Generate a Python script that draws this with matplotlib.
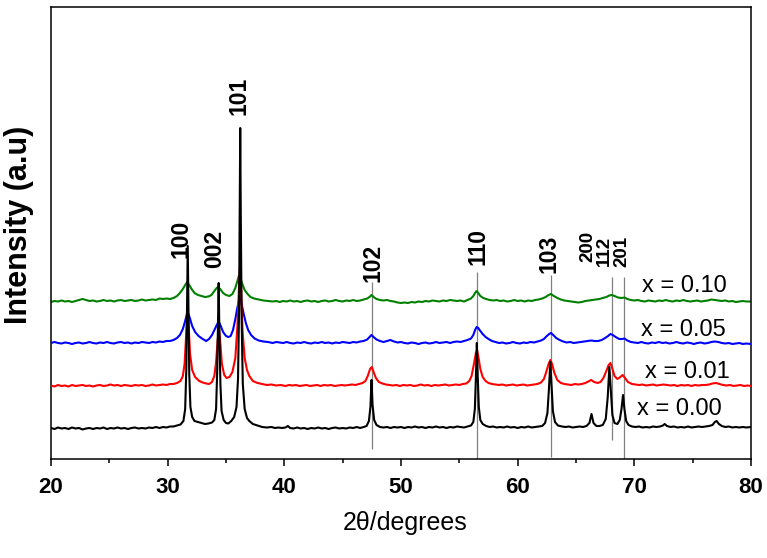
import matplotlib
matplotlib.use("Agg")
import matplotlib.pyplot as plt
from matplotlib.ticker import MultipleLocator

plt.rcParams['font.family'] = ['Liberation Sans', 'DejaVu Sans']

# ---- data (2theta in degrees, intensity in a.u. above each pattern's own baseline) ----
samples = ["x = 0.00", "x = 0.01", "x = 0.05", "x = 0.10"]
colors = ["#000000", "#ff0000", "#0000ff", "#008000"]
offsets = [30, 73, 116, 158]

black = [(20.0,1),(20.3,0),(20.6,1.5),(20.9,0.5),(21.2,1),(21.5,0),(21.8,1.5),(22.1,0.5),(22.4,1),(22.7,-0.5),(23.0,0.5),(23.3,1),(23.6,0),(23.9,1),(24.2,0.5),(24.5,1.5),(24.8,0),(25.1,1),(25.4,0.5),(25.7,1.5),(26.0,0.5),(26.3,1),(26.6,0),(26.9,1),(27.2,1.5),(27.5,0.5),(27.8,1),(28.1,0.5),(28.4,1.5),(28.7,1),(29.0,2),(29.3,1),(29.6,2),(29.9,1.5),(30.2,2.5),(30.5,2.5),(30.8,3.5),(31.1,4.5),(31.35,8),(31.5,20),(31.6,60),(31.66,120),(31.72,183),(31.78,120),(31.85,55),(31.95,22),(32.1,12),(32.3,8),(32.6,7),(32.9,6),(33.2,5),(33.5,5.5),(33.8,6.5),(34.0,9),(34.15,20),(34.25,60),(34.32,110),(34.37,146),(34.43,100),(34.52,45),(34.62,18),(34.8,9),(35.0,6),(35.2,5.5),(35.45,8),(35.7,12),(35.9,22),(36.03,50),(36.12,120),(36.18,220),(36.22,301),(36.27,210),(36.34,110),(36.44,45),(36.6,20),(36.8,11),(37.0,8),(37.3,5),(37.7,3.5),(38.1,2),(38.5,1.5),(38.9,2),(39.2,1),(39.5,1.5),(39.8,1),(40.1,1.5),(40.3,3),(40.5,1),(40.8,0.5),(41.1,1.5),(41.4,0.5),(41.7,1),(42.0,0),(42.3,1),(42.6,0.5),(42.9,1.5),(43.2,0.5),(43.5,1),(43.8,0),(44.1,1),(44.4,1.5),(44.7,0.5),(45.0,1),(45.3,0.5),(45.6,1.5),(45.9,1),(46.2,2),(46.5,1),(46.8,2),(47.05,3),(47.25,8),(47.38,22),(47.47,49),(47.56,24),(47.7,9),(47.9,4),(48.2,2),(48.5,1.5),(48.8,2),(49.1,1),(49.4,2),(49.7,1.5),(50.0,2),(50.3,1),(50.6,2),(50.9,1.5),(51.2,2.5),(51.5,1.5),(51.8,2),(52.1,1),(52.4,2),(52.7,1.5),(53.0,2.5),(53.3,1.5),(53.6,2),(53.9,1),(54.2,2),(54.5,1.5),(54.8,2.5),(55.1,2),(55.4,1.5),(55.7,2.5),(56.0,3.5),(56.2,7),(56.33,20),(56.43,55),(56.5,86),(56.57,55),(56.67,22),(56.8,9),(57.0,5),(57.3,3),(57.6,2),(57.9,2.5),(58.2,1.5),(58.5,2),(58.8,1.5),(59.1,2.5),(59.4,1.5),(59.7,2),(60.0,1),(60.3,2),(60.6,1.5),(60.9,2.5),(61.2,1.5),(61.5,2),(61.8,2.5),(62.1,3),(62.35,6),(62.55,16),(62.68,40),(62.8,67),(62.9,45),(63.02,18),(63.2,7),(63.45,3.5),(63.8,2.5),(64.1,2),(64.4,2.5),(64.7,1.5),(65.0,2),(65.3,2.5),(65.6,2),(65.9,3),(66.15,6),(66.33,15),(66.5,6),(66.75,3),(67.0,3),(67.3,4),(67.55,10),(67.72,32),(67.86,62),(67.98,40),(68.12,14),(68.3,6),(68.55,5),(68.75,9),(68.9,20),(69.03,34),(69.15,20),(69.3,8),(69.5,4),(69.8,2.5),(70.1,2),(70.4,2.5),(70.7,1.5),(71.0,2),(71.3,1.5),(71.6,2.5),(71.9,2),(72.2,2.5),(72.45,3.5),(72.6,5),(72.8,3),(73.1,2),(73.4,2.5),(73.7,1.5),(74.0,2),(74.3,1.5),(74.6,2.5),(74.9,1.5),(75.2,2),(75.5,2.5),(75.8,2),(76.1,2.5),(76.4,3),(76.7,4),(76.9,7),(77.05,8),(77.25,5),(77.5,3),(77.8,2),(78.1,2.5),(78.4,1.5),(78.7,2),(79.0,1.5),(79.3,2),(79.6,1.5),(80.0,2)]

red = [(20.0,0.5),(20.3,-0.5),(20.6,1),(20.9,0),(21.2,0.5),(21.5,-0.5),(21.8,1),(22.1,0),(22.4,0.5),(22.7,1),(23.0,0),(23.3,0.5),(23.6,-0.5),(23.9,0.5),(24.2,1),(24.5,0),(24.8,0.5),(25.1,1.5),(25.4,0.5),(25.7,1),(26.0,0),(26.3,1),(26.6,0.5),(26.9,0),(27.2,1),(27.5,0.5),(27.8,1),(28.1,0),(28.4,0.5),(28.7,1.5),(29.0,0.5),(29.3,1),(29.6,1.5),(29.9,1),(30.2,2),(30.5,2),(30.8,3),(31.1,5),(31.3,10),(31.45,22),(31.58,50),(31.7,78),(31.8,60),(31.92,32),(32.1,16),(32.35,9),(32.7,5),(33.0,3.5),(33.3,2.5),(33.55,2),(33.8,4),(34.0,10),(34.15,24),(34.28,45),(34.4,58),(34.52,42),(34.65,22),(34.85,11),(35.05,8),(35.3,9),(35.55,14),(35.8,28),(35.98,60),(36.1,95),(36.2,119),(36.3,95),(36.42,55),(36.6,28),(36.8,16),(37.0,10),(37.3,5),(37.7,3),(38.1,2),(38.5,1),(38.9,1.5),(39.3,0.5),(39.7,1),(40.1,0),(40.4,1),(40.7,0.5),(41.0,1),(41.3,0),(41.6,0.5),(41.9,1),(42.2,0),(42.5,0.5),(42.8,1),(43.1,0),(43.4,1),(43.7,0.5),(44.0,1),(44.3,0),(44.6,0.5),(44.9,1),(45.2,0.5),(45.5,1),(45.8,1.5),(46.1,1),(46.4,2),(46.7,3),(46.95,5),(47.15,10),(47.35,17),(47.5,19),(47.65,14),(47.85,8),(48.1,4),(48.4,2.5),(48.7,1.5),(49.0,1),(49.3,0.5),(49.6,1),(49.9,0),(50.2,1),(50.5,0.5),(50.8,1),(51.1,0),(51.4,0.5),(51.7,1.5),(52.0,0.5),(52.3,1),(52.6,0),(52.9,1),(53.2,0.5),(53.5,1),(53.8,1.5),(54.1,0.5),(54.4,1),(54.7,1.5),(55.0,1),(55.3,2),(55.6,2.5),(55.85,5),(56.05,10),(56.25,22),(56.42,33),(56.52,36),(56.65,28),(56.8,17),(57.0,9),(57.25,5),(57.5,3),(57.8,2),(58.1,1.5),(58.4,1),(58.7,1.5),(59.0,0.5),(59.3,1),(59.6,1.5),(59.9,0.5),(60.2,1),(60.5,1.5),(60.8,0.5),(61.1,1),(61.4,1.5),(61.7,2),(62.0,3.5),(62.25,7),(62.45,14),(62.65,22),(62.8,26),(62.95,22),(63.15,13),(63.4,6),(63.7,3),(64.0,2),(64.3,1.5),(64.6,1),(64.9,2),(65.2,1.5),(65.5,2),(65.8,3),(66.05,4.5),(66.3,6),(66.55,4),(66.85,3),(67.1,4),(67.35,8),(67.6,15),(67.8,21),(67.95,23),(68.1,18),(68.3,10),(68.55,7),(68.8,9),(69.0,11),(69.2,8),(69.45,4),(69.8,2),(70.1,1.5),(70.4,1),(70.7,1.5),(71.0,0.5),(71.3,1),(71.6,1.5),(71.9,0.5),(72.2,1),(72.5,1.5),(72.8,1),(73.1,0.5),(73.4,1),(73.7,0),(74.0,1),(74.3,0.5),(74.6,1),(74.9,0),(75.2,1),(75.5,0.5),(75.8,1),(76.1,1),(76.4,1.5),(76.7,2.5),(77.0,3),(77.3,2),(77.6,1),(77.9,0.5),(78.2,1),(78.5,0),(78.8,0.5),(79.1,1),(79.4,0),(79.7,0.5),(80.0,0)]

blue = [(20.0,0),(20.3,1),(20.6,0),(20.9,-0.5),(21.2,0.5),(21.5,0),(21.8,-1),(22.1,0),(22.4,0.5),(22.7,-0.5),(23.0,0),(23.3,1),(23.6,0),(23.9,-0.5),(24.2,0.5),(24.5,0),(24.8,1),(25.1,0),(25.4,-0.5),(25.7,0.5),(26.0,1),(26.3,0),(26.6,0.5),(26.9,-0.5),(27.2,0.5),(27.5,0),(27.8,1),(28.1,0.5),(28.4,0),(28.7,1),(29.0,0.5),(29.3,1.5),(29.6,1),(29.9,2),(30.2,2),(30.5,3),(30.8,5),(31.05,8),(31.3,14),(31.5,22),(31.65,29),(31.75,30),(31.9,25),(32.1,17),(32.35,11),(32.65,7),(33.0,4),(33.3,2),(33.55,4),(33.8,8),(34.05,14),(34.25,19),(34.4,21),(34.55,17),(34.75,11),(35.0,7),(35.2,6),(35.4,7),(35.6,13),(35.8,24),(35.95,34),(36.1,42),(36.2,45),(36.32,40),(36.5,30),(36.7,20),(36.9,13),(37.15,8),(37.45,4.5),(37.8,2.5),(38.2,1.5),(38.6,1),(39.0,0),(39.3,1),(39.6,0.5),(39.9,0),(40.2,1),(40.5,0),(40.8,-0.5),(41.1,0.5),(41.4,0),(41.7,1),(42.0,0),(42.3,-0.5),(42.6,0.5),(42.9,0),(43.2,1),(43.5,0),(43.8,0.5),(44.1,-0.5),(44.4,0.5),(44.7,0),(45.0,1),(45.3,0.5),(45.6,0),(45.9,1),(46.2,0.5),(46.5,1.5),(46.8,2),(47.1,3.5),(47.3,6),(47.47,8),(47.65,6),(47.9,3.5),(48.2,2),(48.5,1),(48.8,2),(49.1,3),(49.4,1.5),(49.7,0.5),(50.0,1),(50.3,0),(50.6,-0.5),(50.9,0.5),(51.2,0),(51.5,-1),(51.8,0),(52.1,0.5),(52.4,-0.5),(52.7,0),(53.0,1),(53.3,0),(53.6,0.5),(53.9,1),(54.2,0),(54.5,1),(54.8,1.5),(55.1,1),(55.4,2),(55.7,3),(56.0,4.5),(56.2,8),(56.35,13),(56.48,16),(56.62,15),(56.8,12),(57.0,9),(57.25,6),(57.5,4),(57.8,2),(58.1,1),(58.4,0),(58.7,0.5),(59.0,-0.5),(59.3,0),(59.6,1),(59.9,0),(60.2,-0.5),(60.5,0.5),(60.8,0),(61.1,1),(61.4,0.5),(61.7,1.5),(62.0,2.5),(62.25,4),(62.5,7),(62.7,9),(62.85,10),(63.05,8),(63.3,5),(63.6,3),(63.9,1.5),(64.2,0.5),(64.5,1),(64.8,0),(65.1,0.5),(65.4,1),(65.7,1.5),(66.0,2),(66.3,2.5),(66.6,2),(66.9,2),(67.2,3),(67.5,5),(67.75,7),(67.95,9),(68.15,8),(68.4,6),(68.7,4),(68.95,4),(69.15,4.5),(69.4,2.5),(69.7,1),(70.0,0.5),(70.3,0),(70.6,1),(70.9,0),(71.2,-0.5),(71.5,0.5),(71.8,0),(72.1,1),(72.4,0),(72.7,0.5),(73.0,-0.5),(73.3,0),(73.6,1),(73.9,0),(74.2,-0.5),(74.5,0.5),(74.8,0),(75.1,-1),(75.4,0),(75.7,0.5),(76.0,-0.5),(76.3,0),(76.6,1),(76.9,1.5),(77.2,1),(77.5,0),(77.8,-0.5),(78.1,0),(78.4,-1),(78.7,-0.5),(79.0,0),(79.3,-1),(79.6,-0.5),(80.0,-1)]

green = [(20.0,-1),(20.3,0),(20.6,-0.5),(20.9,0.5),(21.2,-0.5),(21.5,0),(21.8,-1),(22.1,0),(22.4,1),(22.7,2),(23.0,1),(23.3,0),(23.6,0.5),(23.9,-0.5),(24.2,0),(24.5,1),(24.8,0),(25.1,0.5),(25.4,-0.5),(25.7,0.5),(26.0,1),(26.3,0),(26.6,0.5),(26.9,1),(27.2,0),(27.5,0.5),(27.8,1.5),(28.1,0.5),(28.4,1),(28.7,1.5),(29.0,1),(29.3,2.5),(29.6,2),(29.9,2.5),(30.2,2),(30.5,3),(30.8,5),(31.05,8),(31.3,12),(31.5,16),(31.68,19),(31.85,16),(32.05,12),(32.3,8),(32.6,6),(32.9,5),(33.2,4),(33.5,4.5),(33.75,6),(34.0,10),(34.2,13),(34.32,14),(34.5,12),(34.75,8),(35.0,6),(35.3,5),(35.55,7),(35.8,13),(35.98,20),(36.1,25),(36.22,23),(36.4,17),(36.6,11),(36.85,7),(37.1,4),(37.4,2.5),(37.8,1.5),(38.2,0.5),(38.6,0),(39.0,-0.5),(39.3,0),(39.6,-1),(39.9,0),(40.2,-0.5),(40.5,0.5),(40.8,-0.5),(41.1,0),(41.4,-1),(41.7,0),(42.0,0.5),(42.3,-0.5),(42.6,0),(42.9,-1),(43.2,0),(43.5,0.5),(43.8,-0.5),(44.1,0),(44.4,1),(44.7,0),(45.0,-0.5),(45.3,0.5),(45.6,0),(45.9,1),(46.2,0),(46.5,0.5),(46.8,1.5),(47.1,2.5),(47.3,4),(47.48,6),(47.65,4),(47.9,2),(48.2,1),(48.5,0.5),(48.8,1),(49.1,0),(49.4,-0.5),(49.7,-1.5),(50.0,-2),(50.3,-1.5),(50.6,-2),(50.9,-1),(51.2,-1.5),(51.5,-0.5),(51.8,-1),(52.1,0),(52.4,-0.5),(52.7,0.5),(53.0,0),(53.3,-0.5),(53.6,0.5),(53.9,0),(54.2,1),(54.5,0.5),(54.8,0),(55.1,0.5),(55.4,-0.5),(55.7,1),(56.0,2.5),(56.2,5),(56.35,8),(56.48,10),(56.62,8),(56.8,5),(57.05,3),(57.3,2),(57.6,1),(57.9,0.5),(58.2,1),(58.5,0),(58.8,0.5),(59.1,-0.5),(59.4,0),(59.7,1),(60.0,0),(60.3,0.5),(60.6,-0.5),(60.9,0.5),(61.2,0),(61.5,1),(61.8,1.5),(62.1,2.5),(62.4,4),(62.65,6),(62.85,7),(63.1,5),(63.4,3),(63.7,1.5),(64.0,0.5),(64.3,0),(64.6,-0.5),(64.9,-1),(65.2,-1.5),(65.5,-1),(65.8,0),(66.1,0.5),(66.4,1),(66.7,1.5),(67.0,2),(67.3,3),(67.6,4),(67.85,5.5),(68.05,6),(68.3,5),(68.6,3.5),(68.9,3),(69.15,3.5),(69.4,2),(69.7,1),(70.0,0.5),(70.3,1),(70.6,0),(70.9,-0.5),(71.2,0.5),(71.5,0),(71.8,-0.5),(72.1,0.5),(72.4,0),(72.7,1),(73.0,0),(73.3,-0.5),(73.6,0.5),(73.9,0),(74.2,1),(74.5,0),(74.8,-0.5),(75.1,0),(75.4,0.5),(75.7,-0.5),(76.0,0),(76.3,0.5),(76.6,1.5),(76.9,1),(77.2,0.5),(77.5,0),(77.8,0.5),(78.1,-0.5),(78.4,0),(78.7,-1),(79.0,-0.5),(79.3,0),(79.6,-0.5),(80.0,-0.5)]

series = [black, red, blue, green]

# Miller index labels: text, 2theta position, bottom of label (a.u.), font size
hkl_labels = ["100", "002", "101", "102", "110", "103", "200", "112", "201"]
hkl_x = [31.14, 34.06, 36.1, 47.6, 56.6, 62.7, 66.05, 67.45, 68.9]
hkl_y = [201, 191, 344, 177, 194, 186, 197, 193, 192]
hkl_size = [16.5, 16.5, 16.5, 16.5, 16.5, 16.5, 13.5, 13.5, 13.5]

# thin reference lines at reflections: position, lower end, upper end (a.u.)
ref_x = [47.5, 56.5, 62.83, 68.06, 69.14]
ref_lo = [10, 0, 2, 19, 0]
ref_hi = [177, 187, 184, 182, 182]

# sample labels: 2theta of left edge, baseline height (a.u.)
sample_lx = [70.2, 70.9, 70.57, 70.66]
sample_ly = [44, 81, 123, 167]

# ---- figure ----
fig = plt.figure(figsize=(7.67, 5.58), dpi=100)
ax = fig.add_axes([51/767, 1-459/558, 700/767, 452/558])

ax.vlines(ref_x, ref_lo, ref_hi, colors="#808080", linewidth=0.9, zorder=1)

order = [3, 2, 1, 0]  # draw x=0.00 last (on top)
widths = [1.5, 1.5, 1.5, 1.5]
for i in order:
    xs = [p[0] for p in series[i]]
    ys = [p[1] + offsets[i] for p in series[i]]
    ax.plot(xs, ys, color=colors[i], linewidth=widths[i], zorder=2 + (3 - i))

for lab, lx, ly, fs in zip(hkl_labels, hkl_x, hkl_y, hkl_size):
    ax.text(lx, ly, lab, rotation=90, ha="center", va="bottom",
            fontsize=fs, fontweight="bold", zorder=6)

for lab, lx, ly in zip(samples, sample_lx, sample_ly):
    ax.text(lx, ly, lab, ha="left", va="baseline", fontsize=17, zorder=6)

ax.set_xlim(20, 80)
ax.set_ylim(0, 452)
ax.xaxis.set_major_locator(MultipleLocator(10))
ax.xaxis.set_minor_locator(MultipleLocator(5))
ax.set_yticks([])
ax.tick_params(axis="x", which="major", direction="out", length=5, width=1.1,
               pad=8, labelsize=16)
ax.tick_params(axis="x", which="minor", direction="out", length=3, width=1.1)
for t in ax.get_xticklabels():
    t.set_fontweight("bold")
for s in ax.spines.values():
    s.set_linewidth(1.1)

ax.set_xlabel("2θ/degrees", fontsize=18)
ax.xaxis.set_label_coords((405-51)/700, (459-511)/452)
ax.set_ylabel("Intensity (a.u)", fontsize=22, fontweight="bold")
ax.yaxis.set_label_coords((34-51)/700, (459-225)/452)

fig.savefig("out.png", dpi=100)
